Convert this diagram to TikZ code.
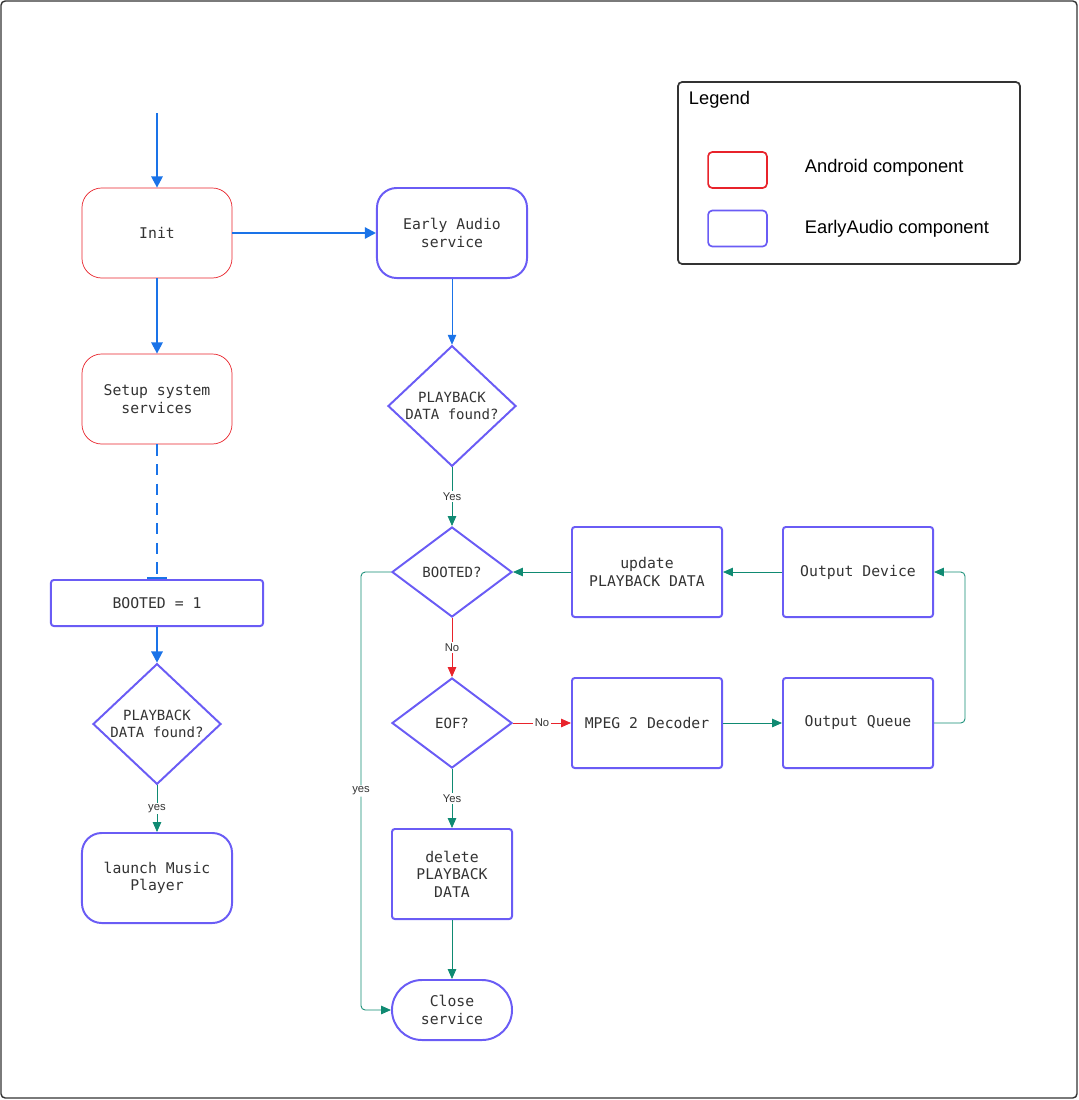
\documentclass[tikz,border=0pt]{standalone}
\usepackage{fontspec}
\setmainfont{Liberation Sans}
\setmonofont{DejaVu Sans Mono}
\usetikzlibrary{shapes.geometric,arrows.meta}
\definecolor{andred}{HTML}{E8232B}
\definecolor{eablue}{HTML}{6A5CF5}
\definecolor{flowblue}{HTML}{1A73E8}
\definecolor{teal}{HTML}{0F8A72}
\definecolor{nored}{HTML}{E8232B}
\tikzset{
    andbox/.style={rectangle, rounded corners=14pt, draw=andred, line width=0.5pt, minimum width=3.75cm, minimum height=2.25cm, align=center, font=\ttfamily\fontsize{10.5}{12.5}\selectfont, text=black!80},
    eabox/.style={rectangle, rounded corners=14pt, draw=eablue, line width=1.4pt, minimum width=3.75cm, minimum height=2.25cm, align=center, font=\ttfamily\fontsize{10.5}{12.5}\selectfont, text=black!80},
    eaproc/.style={eabox, rounded corners=2pt},
    eadec/.style={diamond, draw=eablue, line width=1.4pt, inner sep=0pt, align=center, font=\ttfamily\fontsize{10}{12}\selectfont, text=black!80},
    thick/.style={draw=flowblue, line width=1.6pt, -{Triangle[length=8pt,width=8pt]}},
    thin/.style={draw=flowblue, line width=0.5pt, -{Triangle[length=7pt,width=6pt]}},
    ok/.style={draw=teal, line width=0.6pt, -{Triangle[length=7pt,width=6pt]}},
    no/.style={draw=nored, line width=0.6pt, -{Triangle[length=7pt,width=6pt]}},
    lbl/.style={fill=white, inner sep=1pt, font=\fontsize{8}{9}\selectfont, text=black!80},
}
\begin{document}
\begin{tikzpicture}[x=0.025cm, y=-0.025cm]
    \useasboundingbox (0,0) rectangle (1079,1100);
    \draw[black!80, line width=1pt, rounded corners=3pt] (1,1) rectangle (1077,1098);

    % left column
    \coordinate (start) at (157,113);
    \node[andbox] (init) at (157,233) {Init};
    \node[andbox] (setup) at (157,399) {Setup system\\services};
    \node[eaproc, minimum width=5.3cm, minimum height=1.15cm] (booted1) at (157,603) {BOOTED = 1};
    \node[eadec, minimum width=3.2cm, minimum height=2.6cm] (found1) at (157,724) {PLAYBACK\\DATA found?};
    \node[eabox] (launch) at (157,878) {launch Music\\Player};

    % right part
    \node[eabox] (early) at (452,233) {Early Audio\\service};
    \node[eadec, minimum width=3.2cm, minimum height=2.6cm] (found2) at (452,406) {PLAYBACK\\DATA found?};
    \node[eadec, minimum width=3cm, minimum height=2.25cm] (booted) at (452,572) {BOOTED?};
    \node[eadec, minimum width=3cm, minimum height=2.25cm] (eof) at (452,723) {EOF?};
    \node[eaproc, minimum width=3cm] (delete) at (452,874) {delete\\PLAYBACK\\DATA};
    \node[eabox, rounded corners=0.75cm, minimum width=3cm, minimum height=1.5cm] (close) at (452,1010) {Close\\service};
    \node[eaproc] (update) at (647,572) {update\\PLAYBACK DATA};
    \node[eaproc] (device) at (858,572) {Output Device};
    \node[eaproc] (decoder) at (647,723) {MPEG 2 Decoder};
    \node[eaproc] (queue) at (858,723) {Output Queue};

    % legend
    \node[draw=black!80, line width=1.2pt, rounded corners=3pt, minimum width=8.55cm, minimum height=4.55cm] (legend) at (849,173) {};
    \node[anchor=west, font=\fontsize{13}{15}\selectfont] (legtitle) at (684,100) {Legend};
    \node[draw=andred, line width=1.2pt, rounded corners=3pt, minimum width=1.47cm, minimum height=0.9cm] (legand) at (737.5,170) {};
    \node[draw=eablue, line width=1.2pt, rounded corners=3pt, minimum width=1.47cm, minimum height=0.9cm] (legea) at (737.5,228.5) {};
    \node[anchor=west, font=\fontsize{13}{15}\selectfont] (legandtxt) at (800,168) {Android component};
    \node[anchor=west, font=\fontsize{13}{15}\selectfont] (legeatxt) at (800,229) {EarlyAudio component};

    % connectors
    \draw[thick] (start) -- (init);
    \draw[thick] (init) -- (early);
    \draw[thick] (init) -- (setup);
    \draw[draw=flowblue, line width=1.6pt, dash pattern=on 8pt off 6pt, -{Bar[width=14pt]}] (setup) -- (booted1);
    \draw[thick] (booted1) -- (found1);
    \draw[ok] (found1) -- node[lbl] {yes} (launch);
    \draw[thin] (early) -- (found2);
    \draw[ok] (found2) -- node[lbl] {Yes} (booted);
    \draw[no] (booted) -- node[lbl] {No} (eof);
    \draw[no] (eof) -- node[lbl] {No} (decoder);
    \draw[ok] (eof) -- node[lbl] {Yes} (delete);
    \draw[ok] (delete) -- (close);
    \draw[ok, rounded corners=3pt] (booted.west) -- (361,572) -- node[lbl, pos=0.5] {yes} (361,1010) -- (close.west);
    \draw[ok] (decoder) -- (queue);
    \draw[ok, rounded corners=3pt] (queue.east) -- (965,723) -- (965,572) -- (device.east);
    \draw[ok] (device) -- (update);
    \draw[ok] (update) -- (booted);
\end{tikzpicture}
\end{document}
